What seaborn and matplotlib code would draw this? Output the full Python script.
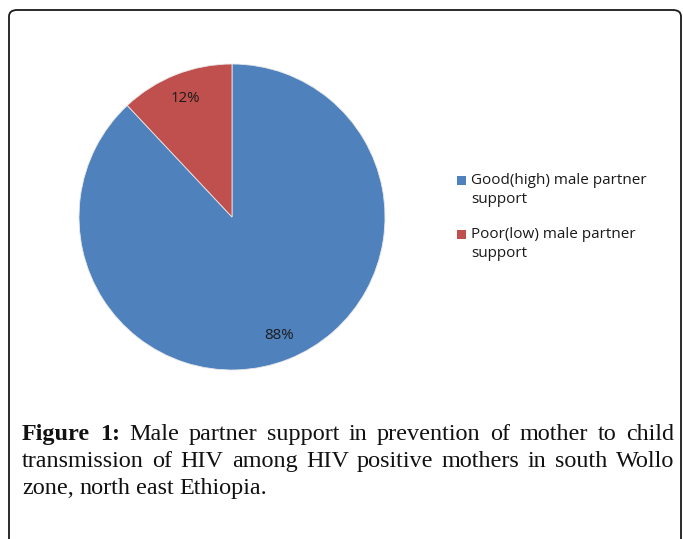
import matplotlib
matplotlib.use("Agg")
import matplotlib.pyplot as plt
import seaborn as sns
from matplotlib.patches import FancyBboxPatch, Rectangle

sns.set_style("white")

# data
categories = ["Good(high) male partner\nsupport", "Poor(low) male partner\nsupport"]
shares = [88, 12]
colors = ["#4F81BD", "#C0504D"]

caption_lines = [
    ["Figure", "1:", "Male", "partner", "support", "in", "prevention", "of", "mother", "to", "child"],
    ["transmission", "of", "HIV", "among", "HIV", "positive", "mothers", "in", "south", "Wollo"],
    ["zone,", "north", "east", "Ethiopia."],
]
bold_words = {(0, 0), (0, 1)}

W, H = 683, 539
fig = plt.figure(figsize=(W / 100, H / 100), dpi=100)

# frame around the figure panel (rounded corners, open at the bottom)
frame = FancyBboxPatch((9 / W, -0.05), (681 - 9) / W, (H - 10) / H + 0.05,
                       boxstyle="round,pad=0,rounding_size=0.012",
                       transform=fig.transFigure, fill=False,
                       edgecolor="#1a1a1a", linewidth=1.3)
fig.patches.append(frame)

# pie
cx, cy, r = 232, 217, 153
ax = fig.add_axes([(cx - r) / W, (H - cy - r) / H, 2 * r / W, 2 * r / H])
wedges, texts, autotexts = ax.pie(shares, colors=colors, startangle=90, counterclock=False,
                                  autopct="%d%%", pctdistance=0.83,
                                  wedgeprops=dict(edgecolor="#e8e8e8", linewidth=0.6),
                                  textprops=dict(fontsize=10.8, family="Open Sans", color="#1a1a1a"))
ax.set_aspect("equal")
ax.set_xlim(-1, 1)
ax.set_ylim(-1, 1)
ax.axis("off")

# legend, drawn by hand so the swatch sits on the first text line
leg_rows = [180, 234]
for lab, col, yrow in zip(categories, colors, leg_rows):
    fig.patches.append(Rectangle((457 / W, 1 - (yrow + 4.5) / H), 9 / W, 9 / H,
                                 transform=fig.transFigure, facecolor=col, edgecolor="none"))
    fig.text(471 / W, 1 - (yrow - 7) / H, lab, fontsize=11, family="Open Sans",
             va="top", ha="left", color="#1a1a1a", linespacing=1.35)

# caption, justified like the journal text
left, right = 22, 674
baselines = [440, 467, 494]
fig.canvas.draw()
renderer = fig.canvas.get_renderer()

# pick the font size so the last (unjustified) line is as wide as in the picture
probe = fig.text(0, 0, " ".join(caption_lines[2]), fontsize=10, family="Liberation Serif")
fsize = 10 * 246 / probe.get_window_extent(renderer).width
probe.remove()

for i, words in enumerate(caption_lines):
    objs = []
    for j, w in enumerate(words):
        t = fig.text(0, 1 - baselines[i] / H, w, fontsize=fsize, family="Liberation Serif",
                     fontweight="bold" if (i, j) in bold_words else "normal",
                     va="baseline", ha="left", color="#111111")
        objs.append(t)
    widths = [t.get_window_extent(renderer).width for t in objs]
    if i < len(caption_lines) - 1:
        gap = (right - left - sum(widths)) / (len(words) - 1)
    else:
        gap = fsize * 0.33
    x = left
    for t, wd in zip(objs, widths):
        t.set_x(x / W)
        x += wd + gap

fig.savefig("out.png", dpi=100)
